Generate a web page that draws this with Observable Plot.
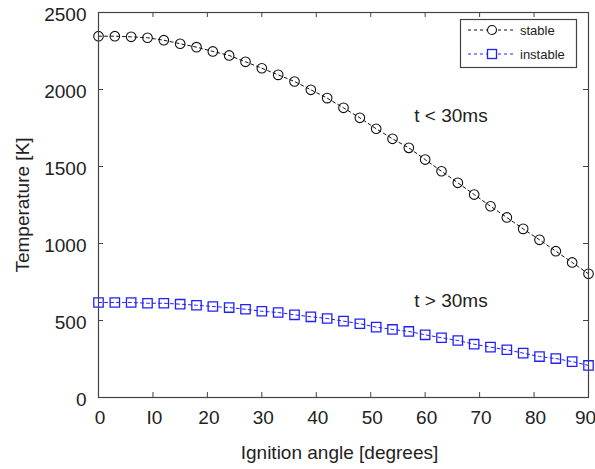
<!DOCTYPE html>
<html>
<head>
<meta charset="utf-8">
<script src="https://cdn.jsdelivr.net/npm/d3@7"></script>
<script src="https://cdn.jsdelivr.net/npm/@observablehq/plot@0.6"></script>
<style>
  body { margin: 0; background: white; }
  #wrap { position: relative; width: 595px; height: 469px; }
  #legend { position: absolute; left: 0; top: 0; }
</style>
</head>
<body>
<div id="wrap"></div>
<script>
const angles = [0,3,6,9,12,15,18,21,24,27,30,33,36,39,42,45,48,51,54,57,60,63,66,69,72,75,78,81,84,87,90];
const stable = [2346,2346,2342,2336,2320,2297,2275,2247,2221,2180,2138,2095,2052,1998,1944,1881,1816,1745,1680,1621,1545,1469,1394,1318,1242,1169,1095,1024,950,877,803];
const instable = [617,617,617,612,612,606,599,591,584,573,560,552,537,524,513,496,479,457,442,429,407,388,370,346,327,310,288,266,253,233,208];
const xTicks = [0,10,20,30,40,50,60,70,80,90];
const xTickLabels = ["0","I0","20","30","40","50","60","70","80","90"];
const yTicks = [0,500,1000,1500,2000,2500];
const seriesNames = ["stable","instable"];
const seriesColors = ["#111111","#2020ff"];
const annotations = [
  {x: 58, y: 1830, text: "t < 30ms"},
  {x: 58, y: 630, text: "t > 30ms"}
];

const stableData = angles.map((a, i) => ({x: a, y: stable[i]}));
const instableData = angles.map((a, i) => ({x: a, y: instable[i]}));

const W = 595, H = 469;
const mL = 98, mR = 7, mT = 12, mB = 72;
const frameW = W - mL - mR, frameH = H - mT - mB;
const tickLen = 5;

const axisColor = "#444";
const textColor = "#222";
const lastTick = xTicks[xTicks.length - 1];
const xLabel = d => xTickLabels[xTicks.indexOf(d)];

const chart = Plot.plot({
  width: W,
  height: H,
  marginLeft: mL,
  marginRight: mR,
  marginTop: mT,
  marginBottom: mB,
  x: {domain: [0, 90]},
  y: {domain: [0, 2500]},
  style: {fontFamily: "'Liberation Sans', Arial, sans-serif", fontSize: "19px", color: textColor, background: "white"},
  marks: [
    Plot.line(stableData, {x: "x", y: "y", stroke: seriesColors[0], strokeWidth: 1, strokeDasharray: "3,3"}),
    Plot.dot(stableData, {x: "x", y: "y", r: 4.8, symbol: "circle", stroke: seriesColors[0], fill: "none", strokeWidth: 1.1}),
    Plot.line(instableData, {x: "x", y: "y", stroke: seriesColors[1], strokeWidth: 1, strokeDasharray: "3,3"}),
    Plot.dot(instableData, {x: "x", y: "y", r: 5.3, symbol: "square", stroke: seriesColors[1], fill: "none", strokeWidth: 1.3}),
    Plot.text(annotations, {x: "x", y: "y", text: "text", textAnchor: "start", fill: textColor, fontSize: 19}),
    // inward tick marks on all four sides
    Plot.ruleX(xTicks, {x: d => d, insetTop: frameH - tickLen, stroke: axisColor, strokeWidth: 1}),
    Plot.ruleX(xTicks, {x: d => d, insetBottom: frameH - tickLen, stroke: axisColor, strokeWidth: 1}),
    Plot.ruleY(yTicks, {y: d => d, insetRight: frameW - tickLen, stroke: axisColor, strokeWidth: 1}),
    Plot.ruleY(yTicks, {y: d => d, insetLeft: frameW - tickLen, stroke: axisColor, strokeWidth: 1}),
    Plot.frame({stroke: axisColor, strokeWidth: 1.2}),
    Plot.axisX(xTicks.filter(d => d !== lastTick), {anchor: "bottom", tickSize: 0, tickPadding: 12.5, dx: 1.5, tickFormat: xLabel, fill: textColor, label: null}),
    Plot.axisX([lastTick], {anchor: "bottom", tickSize: 0, tickPadding: 12.5, dx: -3, tickFormat: xLabel, fill: textColor, label: null}),
    Plot.axisY(yTicks, {anchor: "left", tickSize: 0, tickPadding: 12, dy: 2, tickFormat: d => String(d), fill: textColor, label: null}),
    Plot.text(["Temperature [K]"], {frameAnchor: "left", dx: -76, rotate: -90, textAnchor: "middle", lineAnchor: "middle", fill: textColor, fontSize: 19}),
    Plot.text(["Ignition angle [degrees]"], {frameAnchor: "bottom", dx: -4, dy: 55, textAnchor: "middle", lineAnchor: "middle", fill: textColor, fontSize: 19})
  ]
});

const wrap = document.getElementById("wrap");
wrap.appendChild(chart);

// Legend
const lg = d3.select(wrap).append("svg")
  .attr("id", "legend")
  .attr("width", W).attr("height", H)
  .style("pointer-events", "none");
lg.append("rect")
  .attr("x", 460.5).attr("y", 19.5).attr("width", 116).attr("height", 48)
  .attr("fill", "white").attr("stroke", axisColor).attr("stroke-width", 1.2);
const rows = [30, 54];
seriesNames.forEach((name, i) => {
  const g = lg.append("g").attr("transform", `translate(0,${rows[i]})`);
  g.append("line").attr("x1", 468).attr("x2", 516).attr("y1", 0).attr("y2", 0)
    .attr("stroke", seriesColors[i]).attr("stroke-dasharray", "3,3");
  if (i === 0) {
    g.append("circle").attr("cx", 492).attr("cy", 0).attr("r", 4.5)
      .attr("fill", "white").attr("stroke", seriesColors[i]).attr("stroke-width", 1.1);
  } else {
    g.append("rect").attr("x", 487.5).attr("y", -4.5).attr("width", 9).attr("height", 9)
      .attr("fill", "white").attr("stroke", seriesColors[i]).attr("stroke-width", 1.3);
  }
  g.append("text").attr("x", 520).attr("y", 0).attr("dy", "0.35em")
    .attr("font-family", "'Liberation Sans', Arial, sans-serif").attr("font-size", 13)
    .attr("fill", textColor).text(name);
});
</script>
</body>
</html>
